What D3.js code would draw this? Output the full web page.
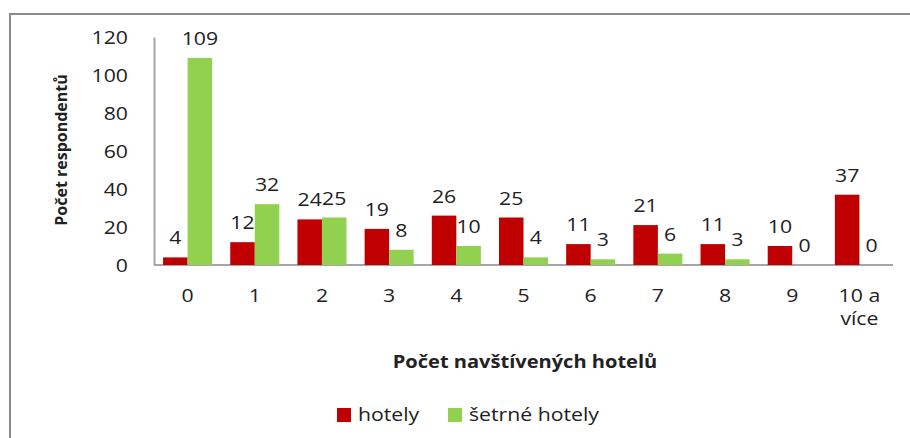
<!DOCTYPE html>
<html><head><meta charset="utf-8">
<script src="https://cdn.jsdelivr.net/npm/d3@7"></script>
<style>
html,body{margin:0;padding:0;background:#fff;}
svg text{font-family:"Open Sans","Noto Sans",sans-serif;fill:#222;}
</style></head>
<body><svg id="c" width="910" height="438"></svg>
<script>
const categories = ["0","1","2","3","4","5","6","7","8","9","10 a více"];
const hotely = [4,12,24,19,26,25,11,21,11,10,37];
const setrne = [109,32,25,8,10,4,3,6,3,0,0];
const seriesNames = ["hotely","šetrné hotely"];
const yTicks = [0,20,40,60,80,100,120];
const colors = ["#C00000","#92D050"];

const K = 1.18; // horizontal text stretch
function stretch(sel){
  sel.each(function(){
    const t = d3.select(this);
    const x0 = +t.attr("x")||0, y0 = +t.attr("y")||0;
    t.attr("x",0).attr("y",0).attr("transform",`translate(${x0},${y0}) scale(${K},1)`);
  });
}

const svg = d3.select("#c");
svg.append("path").attr("d","M10,438 L10,14 L910,14").attr("fill","none")
  .attr("stroke","#8a8a8a").attr("stroke-width",2);

const x = d3.scaleBand().domain(categories).range([154,893]).paddingInner(0.27).paddingOuter(0.135);
const xs = d3.scaleBand().domain([0,1]).range([0,x.bandwidth()]);
const y = d3.scaleLinear().domain([0,120]).range([265,37]);

const ya = svg.append("g").attr("transform","translate(154,0)")
  .call(d3.axisLeft(y).tickValues(yTicks).tickSize(0).tickPadding(26));
ya.select(".domain").attr("stroke","#a6a6a6").attr("stroke-width",2);
ya.selectAll("text").attr("font-size",18).style("font-family","'Open Sans',sans-serif").attr("fill","#222")
  .attr("dy",null).attr("dominant-baseline","central").call(stretch);

const xa = svg.append("g").attr("transform","translate(0,265)")
  .call(d3.axisBottom(x).tickSize(0).tickPadding(24));
xa.select(".domain").attr("stroke","#a6a6a6").attr("stroke-width",2).attr("d","M154,0H893");
xa.selectAll("text").attr("font-size",18).style("font-family","'Open Sans',sans-serif").attr("fill","#222")
  .each(function(d){
    const t = d3.select(this);
    if (d === "10 a více"){
      t.text(null);
      ["10 a","více"].forEach((p,i)=>t.append("tspan").attr("x",0).attr("dy", i===0? "0.71em":"1.3em").text(p));
    }
  }).call(stretch);

[hotely, setrne].forEach((vals,s)=>{
  const g = svg.append("g");
  g.selectAll("rect").data(vals).join("rect")
    .attr("x",(d,i)=>x(categories[i])+xs(s))
    .attr("width",xs.bandwidth())
    .attr("y",d=>y(d))
    .attr("height",d=>y(0)-y(d))
    .attr("fill",colors[s]);
  g.selectAll("text").data(vals).join("text")
    .attr("x",(d,i)=>x(categories[i])+xs(s)+xs.bandwidth()/2)
    .attr("y",d=>y(d)-13)
    .attr("text-anchor","middle")
    .attr("font-size",18)
    .text(d=>d).call(stretch);
});

svg.append("text").attr("transform","translate(67,150) rotate(-90)")
  .attr("text-anchor","middle").attr("font-size",16).attr("font-weight","bold")
  .text("Počet respondentů");
svg.append("text").attr("x",525).attr("y",368).attr("text-anchor","middle")
  .attr("font-size",17).attr("font-weight","bold").text("Počet navštívených hotelů").call(stretch);

const lx = [337,448];
seriesNames.forEach((n,i)=>{
  svg.append("rect").attr("x",lx[i]).attr("y",408).attr("width",14).attr("height",14).attr("fill",colors[i]);
  svg.append("text").attr("x",lx[i]+21).attr("y",421).attr("font-size",18).text(n).call(stretch);
});
</script></body></html>
